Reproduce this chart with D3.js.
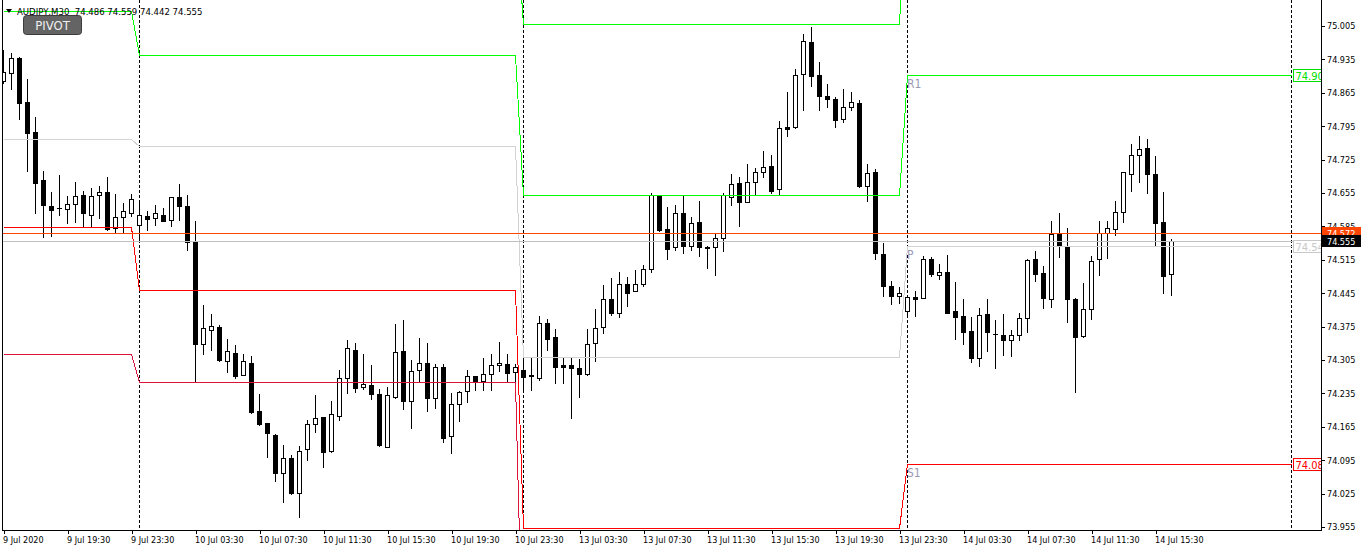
<!DOCTYPE html>
<html>
<head>
<meta charset="utf-8">
<script src="https://cdn.jsdelivr.net/npm/d3@7"></script>
<style>
  body { margin: 0; background: #fff; }
  svg { display: block; }
  text { font-family: "DejaVu Sans Condensed", "Liberation Sans", Arial, sans-serif; }
</style>
</head>
<body>
<div id="chart"></div>
<script>
// AUDJPY M30 bars, 9 Jul 2020 15:30 .. 14 Jul 2020 16:30
const opens = [74.889,74.906,74.938,74.846,74.783,74.682,74.628,74.624,74.621,74.632,74.651,74.608,74.650,74.657,74.581,74.605,74.614,
  74.588,74.607,74.602,74.609,74.598,74.646,74.628,74.555,74.339,74.367,74.374,74.302,74.319,74.274,74.299,74.198,74.172,74.147,74.068,74.099,
  74.026,74.118,74.170,74.185,74.115,74.188,74.267,74.326,74.248,74.253,74.234,74.123,74.228,74.323,74.220,74.284,74.298,74.225,74.290,74.145,
  74.212,74.240,74.271,74.261,74.275,74.294,74.297,74.279,
  74.284,74.273,74.267,74.382,74.353,74.295,74.295,74.288,74.275,74.340,74.375,74.432,74.403,74.464,74.450,74.464,74.495,74.649,74.579,74.541,
  74.613,74.544,74.595,74.540,74.541,74.560,74.646,74.676,74.637,74.679,74.699,74.712,74.663,74.793,74.794,74.904,74.971,74.903,74.859,74.852,
  74.810,74.836,74.843,74.670,74.699,74.527,74.461,74.440,
  74.408,74.436,74.434,74.516,74.483,74.489,74.408,74.397,74.366,74.309,74.402,74.360,74.358,74.346,74.358,74.393,74.516,74.487,74.433,74.571,
  74.543,74.433,74.356,74.411,74.516,74.571,74.579,74.616,74.695,74.735,74.749,74.695,74.594,74.486];
const highs = [74.955,74.949,74.941,74.894,74.814,74.701,74.657,74.693,74.649,74.678,74.659,74.665,74.670,74.689,74.653,74.635,74.653,
  74.639,74.618,74.630,74.624,74.647,74.674,74.651,74.597,74.420,74.402,74.378,74.349,74.337,74.317,74.314,74.234,74.173,74.150,74.126,74.105,
  74.125,74.179,74.232,74.186,74.219,74.284,74.347,74.340,74.318,74.295,74.244,74.248,74.381,74.389,74.305,74.351,74.340,74.297,74.297,74.235,
  74.240,74.283,74.272,74.309,74.318,74.342,74.317,74.297,
  74.312,74.309,74.397,74.390,74.370,74.312,74.312,74.307,74.370,74.412,74.462,74.476,74.490,74.479,74.494,74.504,74.655,74.650,74.625,74.630,
  74.649,74.604,74.639,74.543,74.571,74.655,74.695,74.688,74.716,74.708,74.743,74.735,74.806,74.866,74.915,74.989,75.002,74.929,74.883,74.856,
  74.873,74.866,74.850,74.716,74.705,74.551,74.471,74.459,
  74.436,74.450,74.522,74.520,74.506,74.525,74.468,74.433,74.396,74.415,74.432,74.389,74.402,74.368,74.404,74.516,74.534,74.502,74.597,74.613,
  74.581,74.434,74.466,74.524,74.597,74.597,74.638,74.700,74.758,74.775,74.768,74.733,74.658,74.559];
const lows = [74.886,74.873,74.810,74.702,74.613,74.562,74.564,74.609,74.592,74.595,74.585,74.585,74.602,74.578,74.574,74.574,74.607,
  74.557,74.578,74.588,74.596,74.585,74.599,74.536,74.259,74.318,74.326,74.302,74.279,74.267,74.273,74.194,74.169,74.101,74.052,74.008,74.024,
  73.975,74.096,74.155,74.080,74.113,74.179,74.235,74.237,74.244,74.223,74.125,74.122,74.225,74.202,74.163,74.262,74.199,74.205,74.134,74.110,
  74.178,74.216,74.242,74.242,74.242,74.281,74.260,74.260,
  74.242,74.242,74.263,74.326,74.256,74.256,74.183,74.228,74.274,74.302,74.361,74.399,74.395,74.419,74.449,74.460,74.490,74.576,74.517,74.536,
  74.530,74.536,74.524,74.497,74.483,74.534,74.630,74.585,74.636,74.651,74.689,74.655,74.651,74.775,74.791,74.829,74.880,74.829,74.835,74.794,
  74.803,74.829,74.668,74.638,74.517,74.440,74.422,74.424,
  74.396,74.398,74.434,74.480,74.475,74.403,74.349,74.338,74.300,74.293,74.323,74.288,74.316,74.314,74.346,74.363,74.471,74.415,74.416,74.520,
  74.384,74.237,74.354,74.391,74.483,74.518,74.567,74.594,74.660,74.678,74.655,74.545,74.445,74.442];
const closes = [74.908,74.938,74.843,74.780,74.677,74.629,74.620,74.623,74.632,74.649,74.613,74.649,74.657,74.579,74.605,74.618,74.642,
  74.608,74.600,74.613,74.597,74.646,74.627,74.553,74.339,74.372,74.376,74.304,74.323,74.272,74.302,74.195,74.171,74.151,74.068,74.099,74.026,
  74.115,74.170,74.184,74.113,74.191,74.267,74.330,74.246,74.254,74.233,74.126,74.231,74.321,74.220,74.282,74.298,74.225,74.290,74.142,74.212,
  74.237,74.271,74.262,74.275,74.294,74.298,74.278,74.290,
  74.269,74.272,74.382,74.349,74.291,74.291,74.288,74.275,74.338,74.372,74.432,74.404,74.464,74.446,74.464,74.495,74.651,74.578,74.537,74.613,
  74.543,74.593,74.541,74.541,74.560,74.651,74.674,74.637,74.678,74.699,74.710,74.660,74.791,74.790,74.903,74.973,74.901,74.859,74.852,74.807,
  74.835,74.846,74.670,74.696,74.529,74.461,74.440,74.445,
  74.436,74.432,74.516,74.485,74.489,74.404,74.396,74.363,74.310,74.399,74.363,74.359,74.346,74.358,74.393,74.515,74.485,74.434,74.569,74.543,
  74.433,74.354,74.411,74.513,74.571,74.581,74.615,74.698,74.735,74.747,74.694,74.592,74.482,74.555];

// daily pivot levels (first and last bar of each trading day)
const dayStart = [0, 17, 65, 113];
const dayEnd = [16, 64, 112, 161];
const separatorBars = [17, 65, 113, 161];
const r2 = [75.218, 75.246, 75.009, 75.362];
const r1 = [75.037, 74.945, 74.651, 74.903];
const pp = [74.768, 74.753, 74.312, 74.544];
const s1 = [74.583, 74.452, 73.953, 74.087];
const s2 = [74.318, 74.259, 73.613, 73.724];

const hLevel = 74.572;
const bidPrice = 74.555;

const priceTicks = [75.005, 74.935, 74.865, 74.795, 74.725, 74.655, 74.585, 74.515,
  74.445, 74.375, 74.305, 74.235, 74.165, 74.095, 74.025, 73.955];
const timeLabels = ["9 Jul 2020", "9 Jul 19:30", "9 Jul 23:30", "10 Jul 03:30", "10 Jul 07:30",
  "10 Jul 11:30", "10 Jul 15:30", "10 Jul 19:30", "10 Jul 23:30", "13 Jul 03:30", "13 Jul 07:30",
  "13 Jul 11:30", "13 Jul 15:30", "13 Jul 19:30", "13 Jul 23:30", "14 Jul 03:30", "14 Jul 07:30",
  "14 Jul 11:30", "14 Jul 15:30"];
const timeLabelStep = 8;

const W = 1362, H = 551;
const plotL = 3, plotR = 1321, plotB = 530;
const axisFont = 9;

const x = d3.scaleLinear().domain([0, 161]).range([3.5, 1291.5]);
const y = d3.scaleLinear().domain([73.955, 75.005]).range([527, 26]);
const py = v => Math.round(y(v)) + 0.5;

const svg = d3.select("#chart").append("svg")
  .attr("width", W).attr("height", H);

svg.append("defs").append("clipPath").attr("id", "plot")
  .append("rect").attr("x", plotL).attr("y", 0)
  .attr("width", plotR - plotL).attr("height", plotB);

const plot = svg.append("g").attr("clip-path", "url(#plot)");

// period separators
plot.append("g").selectAll("line").data(separatorBars).join("line")
  .attr("x1", d => x(d)).attr("x2", d => x(d))
  .attr("y1", 0).attr("y2", plotB)
  .attr("stroke", "#000").attr("stroke-dasharray", "3,2")
  .attr("shape-rendering", "crispEdges");

// candles
const bars = d3.range(opens.length).map(i => ({ i, o: opens[i], h: highs[i], l: lows[i], c: closes[i] }));
const cg = plot.append("g").attr("shape-rendering", "crispEdges");

cg.selectAll("line.wick").data(bars).join("line")
  .attr("class", "wick")
  .attr("x1", d => x(d.i)).attr("x2", d => x(d.i))
  .attr("y1", d => Math.round(y(d.h))).attr("y2", d => Math.round(y(d.l)) + 1)
  .attr("stroke", "#000");

bars.forEach(d => {
  const t = Math.round(y(Math.max(d.o, d.c)));
  const b = Math.round(y(Math.min(d.o, d.c)));
  if (b - t < 1) {
    cg.append("line")
      .attr("x1", x(d.i) - 2.5).attr("x2", x(d.i) + 2.5)
      .attr("y1", t + 0.5).attr("y2", t + 0.5)
      .attr("stroke", "#000");
  } else {
    cg.append("rect")
      .attr("x", x(d.i) - 2).attr("y", t + 0.5)
      .attr("width", 4).attr("height", b - t)
      .attr("fill", d.c >= d.o ? "#fff" : "#000")
      .attr("stroke", "#000");
  }
});

// pivot lines
const levelLine = d3.line().x(d => x(d[0])).y(d => py(d[1]));
const levelSets = [
  { vals: r2, color: "#00ff00" },
  { vals: r1, color: "#00ff00" },
  { vals: pp, color: "#d3d3d3" },
  { vals: s1, color: "#ff0000" },
  { vals: s2, color: "#dc143c" }
];
levelSets.forEach(s => {
  const pts = [];
  s.vals.forEach((v, k) => { pts.push([dayStart[k], v], [dayEnd[k], v]); });
  plot.append("path").attr("d", levelLine(pts))
    .attr("fill", "none").attr("stroke", s.color)
    .attr("shape-rendering", "crispEdges");
});

// horizontal line and bid line
plot.append("line").attr("x1", plotL).attr("x2", plotR)
  .attr("y1", py(hLevel)).attr("y2", py(hLevel))
  .attr("stroke", "#ff4500").attr("shape-rendering", "crispEdges");
plot.append("line").attr("x1", plotL).attr("x2", plotR)
  .attr("y1", py(bidPrice)).attr("y2", py(bidPrice))
  .attr("stroke", "#c0c0c0").attr("shape-rendering", "crispEdges");

// current day level names and price tags
const last = dayStart.length - 1;
const tags = [
  { name: "R1", v: r1[last], color: "#00e000" },
  { name: "P", v: pp[last], color: "#c8c8c8" },
  { name: "S1", v: s1[last], color: "#ff0000" }
];
plot.selectAll("text.lvl").data(tags).join("text")
  .attr("class", "lvl")
  .attr("x", x(dayStart[last]) - 0.5)
  .attr("y", d => py(d.v) + 12)
  .attr("font-size", 12).attr("fill", "#9a9ab4")
  .text(d => d.name);

const tagG = plot.selectAll("g.tag").data(tags).join("g").attr("class", "tag");
tagG.append("rect")
  .attr("x", x(dayEnd[last]) + 2).attr("y", d => py(d.v) - 6)
  .attr("width", 40).attr("height", 12)
  .attr("fill", "#fff").attr("stroke", d => d.color)
  .attr("shape-rendering", "crispEdges");
tagG.append("text")
  .attr("x", x(dayEnd[last]) + 4).attr("y", d => py(d.v) + 4.5)
  .attr("font-size", 11).attr("fill", d => d.color)
  .text(d => d3.format(".3f")(d.v));

// frame
svg.append("path")
  .attr("d", `M${plotL - 0.5},0V${plotB + 0.5}H${plotR + 0.5}V0`)
  .attr("fill", "none").attr("stroke", "#000")
  .attr("shape-rendering", "crispEdges");

// price axis
const yAxis = svg.append("g")
  .attr("transform", `translate(${plotR},0)`)
  .attr("shape-rendering", "crispEdges")
  .call(d3.axisRight(y).tickValues(priceTicks).tickFormat(d3.format(".3f")).tickSize(4).tickPadding(2));
yAxis.select(".domain").remove();
yAxis.selectAll("text").attr("font-size", axisFont).attr("font-family", null).attr("fill", "#000");

// time axis
const timeBars = timeLabels.map((t, k) => k * timeLabelStep);
const xAxis = svg.append("g")
  .attr("transform", `translate(0,${plotB})`)
  .attr("shape-rendering", "crispEdges")
  .call(d3.axisBottom(x).tickValues(timeBars).tickFormat((d, k) => timeLabels[k]).tickSize(4).tickPadding(3));
xAxis.select(".domain").remove();
xAxis.attr("font-family", null);
xAxis.selectAll("text").attr("font-size", axisFont).attr("text-anchor", "start").attr("dx", -1)
  .attr("fill", "#000");

// axis price labels
const axisTags = [
  { v: hLevel, bg: "#ff4500" },
  { v: bidPrice, bg: "#000" }
];
const at = svg.selectAll("g.atag").data(axisTags).join("g").attr("class", "atag");
at.append("rect")
  .attr("x", plotR + 1).attr("y", d => Math.round(y(d.v)) - 6)
  .attr("width", 39).attr("height", 12).attr("fill", d => d.bg);
at.append("text")
  .attr("x", plotR + 6).attr("y", d => Math.round(y(d.v)) + 3.5)
  .attr("font-size", axisFont).attr("fill", "#fff")
  .text(d => d3.format(".3f")(d.v));

// header
svg.append("path").attr("d", "M6,9L12,9L9,13Z").attr("fill", "#000");
svg.append("text").attr("x", 17).attr("y", 14.5)
  .attr("font-size", 9.5).attr("fill", "#000").style("white-space", "pre")
  .text("AUDJPY,M30  " + [opens[opens.length - 1], highs[highs.length - 1], lows[lows.length - 1], closes[closes.length - 1]].map(d3.format(".3f")).join(" "));

// PIVOT button
svg.append("rect").attr("x", 23.5).attr("y", 15.5).attr("width", 58).attr("height", 19).attr("rx", 3)
  .attr("fill", "#646464").attr("stroke", "#3c3c3c");
svg.append("text").attr("x", 52.5).attr("y", 30).attr("text-anchor", "middle")
  .attr("font-family", "Liberation Sans, Arial, sans-serif")
  .attr("font-size", 13).attr("fill", "#f0f0f0").text("PIVOT");
</script>
</body>
</html>
